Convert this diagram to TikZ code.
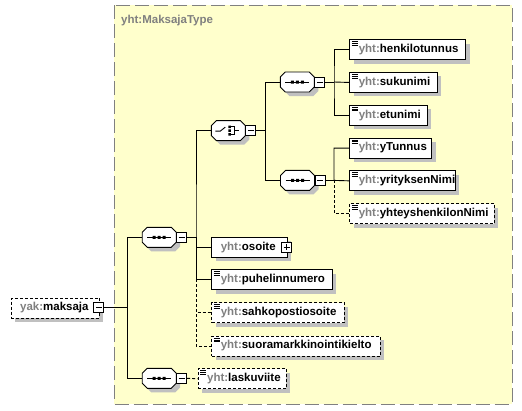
\documentclass[tikz,border=0pt]{standalone}
\usepackage{fontspec}
\setmainfont{Liberation Sans}
\usetikzlibrary{shadows}
\definecolor{cfill}{RGB}{255,255,204}
\definecolor{cbord}{RGB}{128,128,128}
\definecolor{shd}{RGB}{192,192,192}
\definecolor{pre}{RGB}{128,128,128}
\newcommand\elfont{\fontsize{11.5}{13}\selectfont\bfseries}
\newcommand\nm[3][yht:]{\makebox[#2pt][l]{\textcolor{pre}{#1}#3}}
\newcommand\compobase{%
    \fill[shd] (-13,-1) -- (-8,-6) -- (16,-6) -- (21,-1) -- (21,9) -- (16,14) -- (-8,14) -- (-13,9) -- cycle;
    \draw[octo] (-17,-5) -- (-12,-10) -- (12,-10) -- (17,-5) -- (17,5) -- (12,10) -- (-12,10) -- (-17,5) -- cycle;
    \node[inner sep=0pt, minimum width=34pt, minimum height=20pt] (-c) at (0,0) {};
    \node[pm, minus] (-m) at (22.5,0) {};}
\tikzset{
  ln/.style={line width=0.9pt},
  el/.style={draw, ln, fill=white, minimum height=20pt, inner xsep=9pt, inner ysep=0pt,
    text height=8pt, text depth=2.5pt, anchor=north west, font=\elfont,
    general shadow={fill=shd, shadow xshift=4pt, shadow yshift=-4pt}},
  opt/.style={dash pattern=on 3pt off 2pt},
  conn/.style={ln},
  dconn/.style={ln, dash pattern=on 3pt off 2pt},
  ic/.style={path picture={\draw[solid, line width=0.8pt]
    ([xshift=2pt,yshift=-2pt]path picture bounding box.north west) -- ++(6,0)
    ([xshift=2pt,yshift=-3.8pt]path picture bounding box.north west) -- ++(6,0)
    ([xshift=2pt,yshift=-5.6pt]path picture bounding box.north west) -- ++(6,0);}},
  pm/.style={draw, ln, solid, fill=white, minimum size=10pt, inner sep=0pt},
  minus/.style={path picture={\draw[solid, line width=0.8pt]
    ([xshift=2pt]path picture bounding box.west) -- ([xshift=-2pt]path picture bounding box.east);}},
  plus/.style={path picture={\draw[solid, line width=0.8pt]
    ([xshift=2pt]path picture bounding box.west) -- ([xshift=-2pt]path picture bounding box.east)
    ([yshift=2pt]path picture bounding box.south) -- ([yshift=-2pt]path picture bounding box.north);}},
  octo/.style={ln, fill=white},
  pics/seqc/.style={code={
    \compobase
    \draw[ln] (-12,0) -- (12,0);
    \fill (-6.5,-1.5) rectangle (-3.5,1.5) (-1.5,-1.5) rectangle (1.5,1.5) (3.5,-1.5) rectangle (6.5,1.5);
  }},
  pics/choc/.style={code={
    \compobase
    \draw[ln] (-13,0.5) -- (-8,0.5) -- (-3,-3.5);
    \fill (0,-5) rectangle (2.5,-2.5) (0,-1.25) rectangle (2.5,1.25) (0,2.5) rectangle (2.5,5);
    \draw[ln] (2.5,-3.75) -| (6,3.75) -- (2.5,3.75) (6,0) -- (11,0);
  }},
}
\begin{document}
\begin{tikzpicture}[x=1pt,y=-1pt]
\useasboundingbox (0,0) rectangle (522,410);
% container
\draw[cbord, line width=1pt, dash pattern=on 14pt off 5pt, fill=cfill] (114.3,5.3) rectangle (512,404);
\node[anchor=base west, font=\elfont, text=pre, inner sep=0pt] (ttl) at (121,23) {yht:MaksajaType};
% elements
\node[el,ic] (e1) at (349.3,39.2) {\nm{98}{henkilotunnus}};
\node[el,ic] (e2) at (349.3,72) {\nm{69.4}{sukunimi}};
\node[el,ic] (e3) at (349.3,104.8) {\nm{59.4}{etunimi}};
\node[el,ic] (e4) at (349.3,137.6) {\nm{64}{yTunnus}};
\node[el,ic] (e5) at (349.3,170.4) {\nm{87.4}{yrityksenNimi}};
\node[el,ic,opt] (e6) at (349.3,203.2) {\nm{126.7}{yhteyshenkilonNimi}};
\node[el] (os) at (211.3,237) {\nm{57.5}{osoite}};
\node[el,ic] (ph) at (211.3,269.3) {\nm{102.4}{puhelinnumero}};
\node[el,ic,opt] (sa) at (211.3,302.3) {\nm{114.7}{sahkopostiosoite}};
\node[el,ic,opt] (su) at (211.3,335.7) {\nm{150.7}{suoramarkkinointikielto}};
\node[el,ic,opt] (la) at (197.7,368.3) {\nm{70.3}{laskuviite}};
\node[el,opt] (mk) at (10.7,297.7) {\nm[yak:]{70.3}{maksaja}};
\node[pm,minus] (mkm) at (98.9,307.7) {};
\node[pm,plus] (osp) at (286.5,247) {};
% compositors
\pic (q2) at (159.2,237.3) {seqc};
\pic (q3) at (159.2,378.3) {seqc};
\pic (ch) at (228.3,130.6) {choc};
\pic (qa) at (297.3,82) {seqc};
\pic (qb) at (297.5,180.4) {seqc};
% junctions
\coordinate (j1) at (127.7,307.7);
\coordinate (j2) at (196,237.3);
\coordinate (j3) at (196,279.3);
\coordinate (j4) at (265.7,130.6);
\coordinate (j5) at (334,82);
\coordinate (j6) at (334,180.4);
% connectors
\draw[conn] (mkm.east) -- (j1);
\draw[conn] (q2-c.west) -| (j1) |- (q3-c.west);
\draw[conn] (q2-m.east) -- (j2);
\draw[conn] (ch-c.west) -| (j2) |- (os.west);
\draw[conn] (j2) |- (ph.west);
\draw[dconn] (j3) |- (sa.west);
\draw[dconn] (j3) |- (su.west);
\draw[dconn] (q3-m.east) -- (la.west);
\draw[conn] (ch-m.east) -- (j4);
\draw[conn] (qa-c.west) -| (j4) |- (qb-c.west);
\draw[conn] (qa-m.east) -- (j5);
\draw[conn] (e1.west) -| (j5) |- (e3.west);
\draw[conn] (j5) -- (e2.west);
\draw[conn] (qb-m.east) -- (j6);
\draw[conn] (e4.west) -| (j6) -- (e5.west);
\draw[dconn] (j6) |- (e6.west);
\end{tikzpicture}
\end{document}
